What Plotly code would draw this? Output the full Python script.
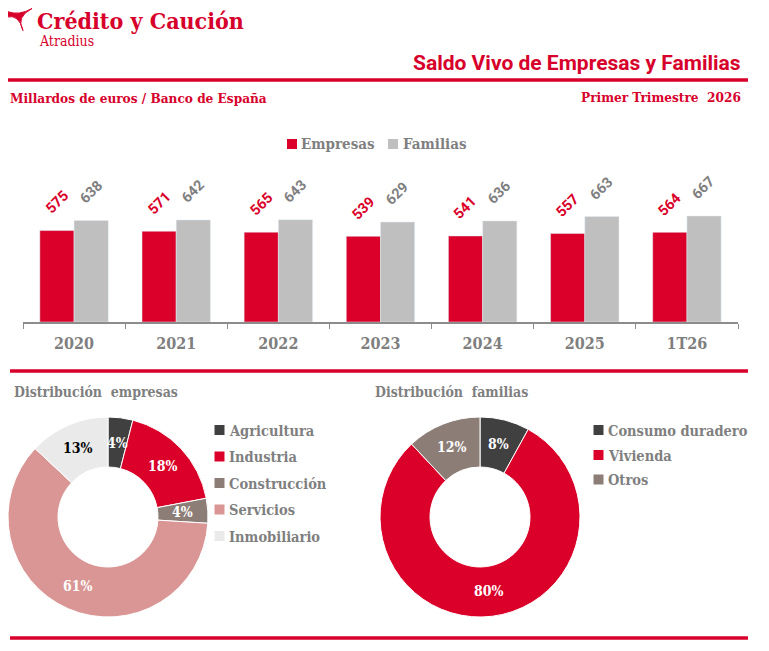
import math
import plotly.graph_objects as go

# The page body has an 8px margin, so the figure is sized to end at the window edge
OFF = 8
PAGE_W, PAGE_H = 769, 651
W, H = PAGE_W - OFF, PAGE_H - OFF

# ---------------- data ----------------
years = ["2020", "2021", "2022", "2023", "2024", "2025", "1T26"]
empresas = [575, 571, 565, 539, 541, 557, 564]
familias = [638, 642, 643, 629, 636, 663, 667]

emp_labels = ["Agricultura", "Industria", "Construcción", "Servicios", "Inmobiliario"]
emp_values = [4, 18, 4, 61, 13]

fam_labels = ["Consumo duradero", "Vivienda", "Otros"]
fam_values = [8, 80, 12]

# ---------------- styles ----------------
RED = "#D7002B"
BAR_RED = "#DA0029"
BAR_GRAY = "#BFBFBF"
TXT_GRAY = "#7F7F7F"
SERIF = "DejaVu Serif Condensed, DejaVu Serif, serif"
SANS = "Roboto, DejaVu Sans, sans-serif"

emp_colors = ["#404040", "#DA0029", "#8C7D77", "#D99694", "#EAEAEA"]
emp_text_colors = ["white", "white", "white", "white", "black"]
fam_colors = ["#404040", "#DA0029", "#8C7D77"]
fam_text_colors = ["white", "white", "white"]


def px(x):
    return (x - OFF) / W


def py(y):
    return 1 - (y - OFF) / H


fig = go.Figure()

fig.add_trace(go.Bar(name="Empresas", x=years, y=empresas, marker_color=BAR_RED,
                     showlegend=False))
fig.add_trace(go.Bar(name="Familias", x=years, y=familias, marker_color=BAR_GRAY,
                     showlegend=False))

# rotated value labels placed on the bar axes (half a bar left / right of category)
HALF_BAR = 17
for series, color, shift in [(empresas, BAR_RED, -HALF_BAR), (familias, TXT_GRAY, HALF_BAR)]:
    for i, v in enumerate(series):
        fig.add_annotation(x=i, y=v, xref="x", yref="y", text=str(v),
                           showarrow=False, textangle=-45,
                           xanchor="center", yanchor="middle",
                           xshift=shift, yshift=28,
                           font=dict(family=SANS, size=14.5, color=color, weight="bold"))

PIE_R = 100
emp_center = (108, 517)
fam_center = (480, 517)


def add_donut(labels, values, colors, center, text_colors):
    cx, cy = center
    fig.add_trace(go.Pie(
        labels=labels, values=values, hole=0.5, sort=False,
        direction="clockwise", rotation=0,
        marker=dict(colors=colors, line=dict(color="white", width=1)),
        textinfo="none", showlegend=False,
        domain=dict(x=[px(cx - PIE_R), px(cx + PIE_R)],
                    y=[py(cy + PIE_R), py(cy - PIE_R)]),
    ))
    # percentage labels placed at the middle of each ring segment
    total = sum(values)
    cum = 0
    r_mid = PIE_R * 0.75
    for v, tc in zip(values, text_colors):
        theta = 2 * math.pi * (cum + v / 2) / total
        cum += v
        lx = cx + r_mid * math.sin(theta)
        ly = cy - r_mid * math.cos(theta)
        fig.add_annotation(text=f"{round(100 * v / total)}%", x=px(lx), y=py(ly),
                           xref="paper", yref="paper", showarrow=False,
                           xanchor="center", yanchor="middle",
                           font=dict(family=SERIF, size=14, color=tc, weight="bold"))


add_donut(emp_labels, emp_values, emp_colors, emp_center, emp_text_colors)
add_donut(fam_labels, fam_values, fam_colors, fam_center, fam_text_colors)

fig.update_layout(
    width=W, height=H,
    margin=dict(l=0, r=0, t=0, b=0),
    paper_bgcolor="white", plot_bgcolor="white",
    barmode="group", bargap=0.33, bargroupgap=0,
    showlegend=False,
    xaxis=dict(type="category", domain=[px(23), px(738)], range=[-0.5, 6.5],
               showline=True, linecolor="#8C8C8C", linewidth=1.5,
               ticks="outside", tickson="boundaries", ticklen=5,
               tickcolor="#8C8C8C", tickwidth=1, ticklabelstandoff=6,
               tickfont=dict(family=SERIF, size=16, color=TXT_GRAY, weight="bold"),
               showgrid=False, fixedrange=True),
    yaxis=dict(domain=[py(322), py(163)], range=[0, 1000], visible=False,
               showgrid=False, fixedrange=True),
)

# horizontal red rules
for y, x0 in [(80, 8), (371, 10), (638, 10)]:
    fig.add_shape(type="line", xref="paper", yref="paper",
                  x0=px(x0), x1=px(748), y0=py(y), y1=py(y),
                  line=dict(color=RED, width=3.5))

# logo icon (three tapered arms with concave sides)
icon = [("M", (7, 11.5)), ("Q", (19, 16), (32, 8.5)),
        ("Q", (15.5, 17), (23, 30.5)), ("Q", (19, 14), (7, 17))]
parts = []
for seg in icon:
    if seg[0] == "M":
        parts.append("M{},{}".format(px(seg[1][0]), py(seg[1][1])))
    else:
        parts.append("Q{},{} {},{}".format(px(seg[1][0]), py(seg[1][1]),
                                           px(seg[2][0]), py(seg[2][1])))
fig.add_shape(type="path", xref="paper", yref="paper", path=" ".join(parts) + " Z",
              fillcolor=RED, line=dict(color=RED, width=1))


def ann(text, x, y, size, color, family, xanchor="left", bold=True):
    fig.add_annotation(text=text, x=px(x), y=py(y), xref="paper", yref="paper",
                       xanchor=xanchor, yanchor="middle", showarrow=False,
                       font=dict(family=family, size=size, color=color,
                                 weight="bold" if bold else "normal"))


ann("Crédito y Caución", 35, 21, 23, RED, SERIF)
ann("Atradius", 37, 41, 14, RED, SERIF, bold=False)
ann("Saldo Vivo de Empresas y Familias", 743, 63, 21, RED, SANS, xanchor="right")
ann("Millardos de euros / Banco de España", 8, 98, 13.5, RED, SERIF)
ann("Primer Trimestre\u00a0 2026", 743, 97, 13.5, RED, SERIF, xanchor="right")
ann("Distribución\u00a0 empresas", 12, 392, 14, TXT_GRAY, SERIF)
ann("Distribución\u00a0 familias", 373, 392, 14, TXT_GRAY, SERIF)


# legends (square swatch + label)
def legend_item(label, color, sq_cx, text_x, y, size=14.5):
    s = 5
    fig.add_shape(type="rect", xref="paper", yref="paper",
                  x0=px(sq_cx - s), x1=px(sq_cx + s), y0=py(y + s), y1=py(y - s),
                  fillcolor=color, line=dict(width=0))
    ann(label, text_x - 2, y, size, TXT_GRAY, SERIF)


legend_item("Empresas", BAR_RED, 292, 301, 144, 15)
legend_item("Familias", BAR_GRAY, 393, 403, 144, 15)

emp_rows = [430, 456.5, 483, 509.5, 536]
for lab, col, ry in zip(emp_labels, emp_colors, emp_rows):
    legend_item(lab, col, 219.5, 229, ry)

fam_rows = [430, 455, 479.5]
for lab, col, ry in zip(fam_labels, fam_colors, fam_rows):
    legend_item(lab, col, 598.5, 608, ry)

fig.write_html("out.html")
